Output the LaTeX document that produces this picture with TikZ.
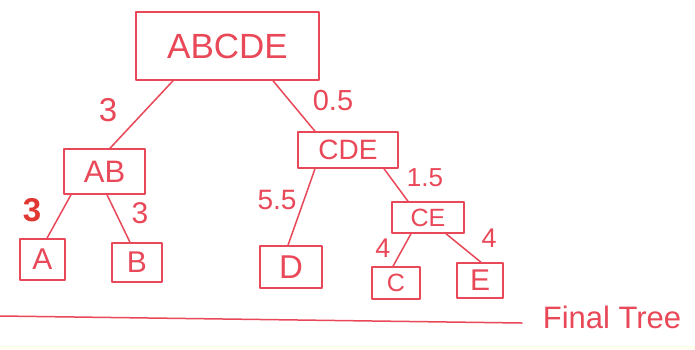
\documentclass[tikz,border=0pt]{standalone}
\usepackage{fontspec}
\setmainfont{Liberation Sans}
\definecolor{ink}{RGB}{233,72,88}
\definecolor{inkdark}{RGB}{225,55,50}
\definecolor{paperedge}{RGB}{255,253,235}
\begin{document}
\begin{tikzpicture}[x=1pt,y=-1pt,
  pen/.style={draw=ink,line width=1.5pt,line cap=round,line join=round},
  treebox/.style={pen,rectangle,inner sep=0pt,text=ink,font=\fontsize{#1}{#1}\selectfont},
  weight/.style={text=ink,inner sep=0pt,font=\fontsize{#1}{#1}\selectfont}]
  \useasboundingbox[fill=white] (0,0) rectangle (695,349);
  \fill[paperedge] (0,346) rectangle (695,349);

  % tree nodes
  \node[treebox=35,minimum width=183pt,minimum height=68pt] (abcde) at (227.5,46) {ABCDE};
  \node[treebox=31,minimum width=81pt,minimum height=45pt] (ab) at (104.5,171.5) {AB};
  \node[treebox=28,minimum width=100pt,minimum height=36pt] (cde) at (348,150) {CDE};
  \node[treebox=25,minimum width=72pt,minimum height=31pt] (ce) at (428,217.5) {CE};
  \node[treebox=30,minimum width=45pt,minimum height=41pt] (a) at (42.5,259.5) {A};
  \node[treebox=30,minimum width=50pt,minimum height=39pt] (b) at (137,262.5) {B};
  \node[treebox=33,minimum width=62pt,minimum height=42pt] (d) at (291,267) {D};
  \node[treebox=25,minimum width=48pt,minimum height=32pt] (c) at (396,283) {C};
  \node[treebox=30,minimum width=46pt,minimum height=35pt] (e) at (480,280.5) {E};

  % branches
  \draw[pen] ([xshift=-54.5pt]abcde.south) -- ([xshift=5.5pt]ab.north);
  \draw[pen] ([xshift=45.5pt]abcde.south) -- ([xshift=-33pt]cde.north);
  \draw[pen] ([xshift=-33.5pt]ab.south) -- ([xshift=4.5pt]a.north);
  \draw[pen] ([xshift=2.5pt]ab.south) -- ([xshift=-7pt]b.north);
  \draw[pen] ([xshift=-33pt]cde.south) -- ([xshift=-3pt]d.north);
  \draw[pen] ([xshift=36pt]cde.south) -- ([xshift=-20pt]ce.north);
  \draw[pen] ([xshift=-17pt]ce.south) -- ([xshift=-3pt]c.north);
  \draw[pen] ([xshift=18pt]ce.south) -- ([xshift=1pt]e.north);

  % branch lengths
  \node[weight=33] (w1) at (108,110) {3};
  \node[weight=29] (w2) at (333,101) {0.5};
  \node[weight=33,text=inkdark,font=\fontsize{33}{33}\selectfont\bfseries] (w3) at (32,210) {3};
  \node[weight=30] (w4) at (140,213) {3};
  \node[weight=28] (w5) at (277,200) {5.5};
  \node[weight=26] (w6) at (425,178) {1.5};
  \node[weight=27] (w7) at (383,248) {4};
  \node[weight=27] (w8) at (489,238) {4};

  % caption rule
  \coordinate (r0) at (0,316);
  \coordinate (r1) at (522,323);
  \draw[pen] (r0) -- (r1);
  \node[weight=31] (cap) at (612,317) {Final Tree};
\end{tikzpicture}
\end{document}
